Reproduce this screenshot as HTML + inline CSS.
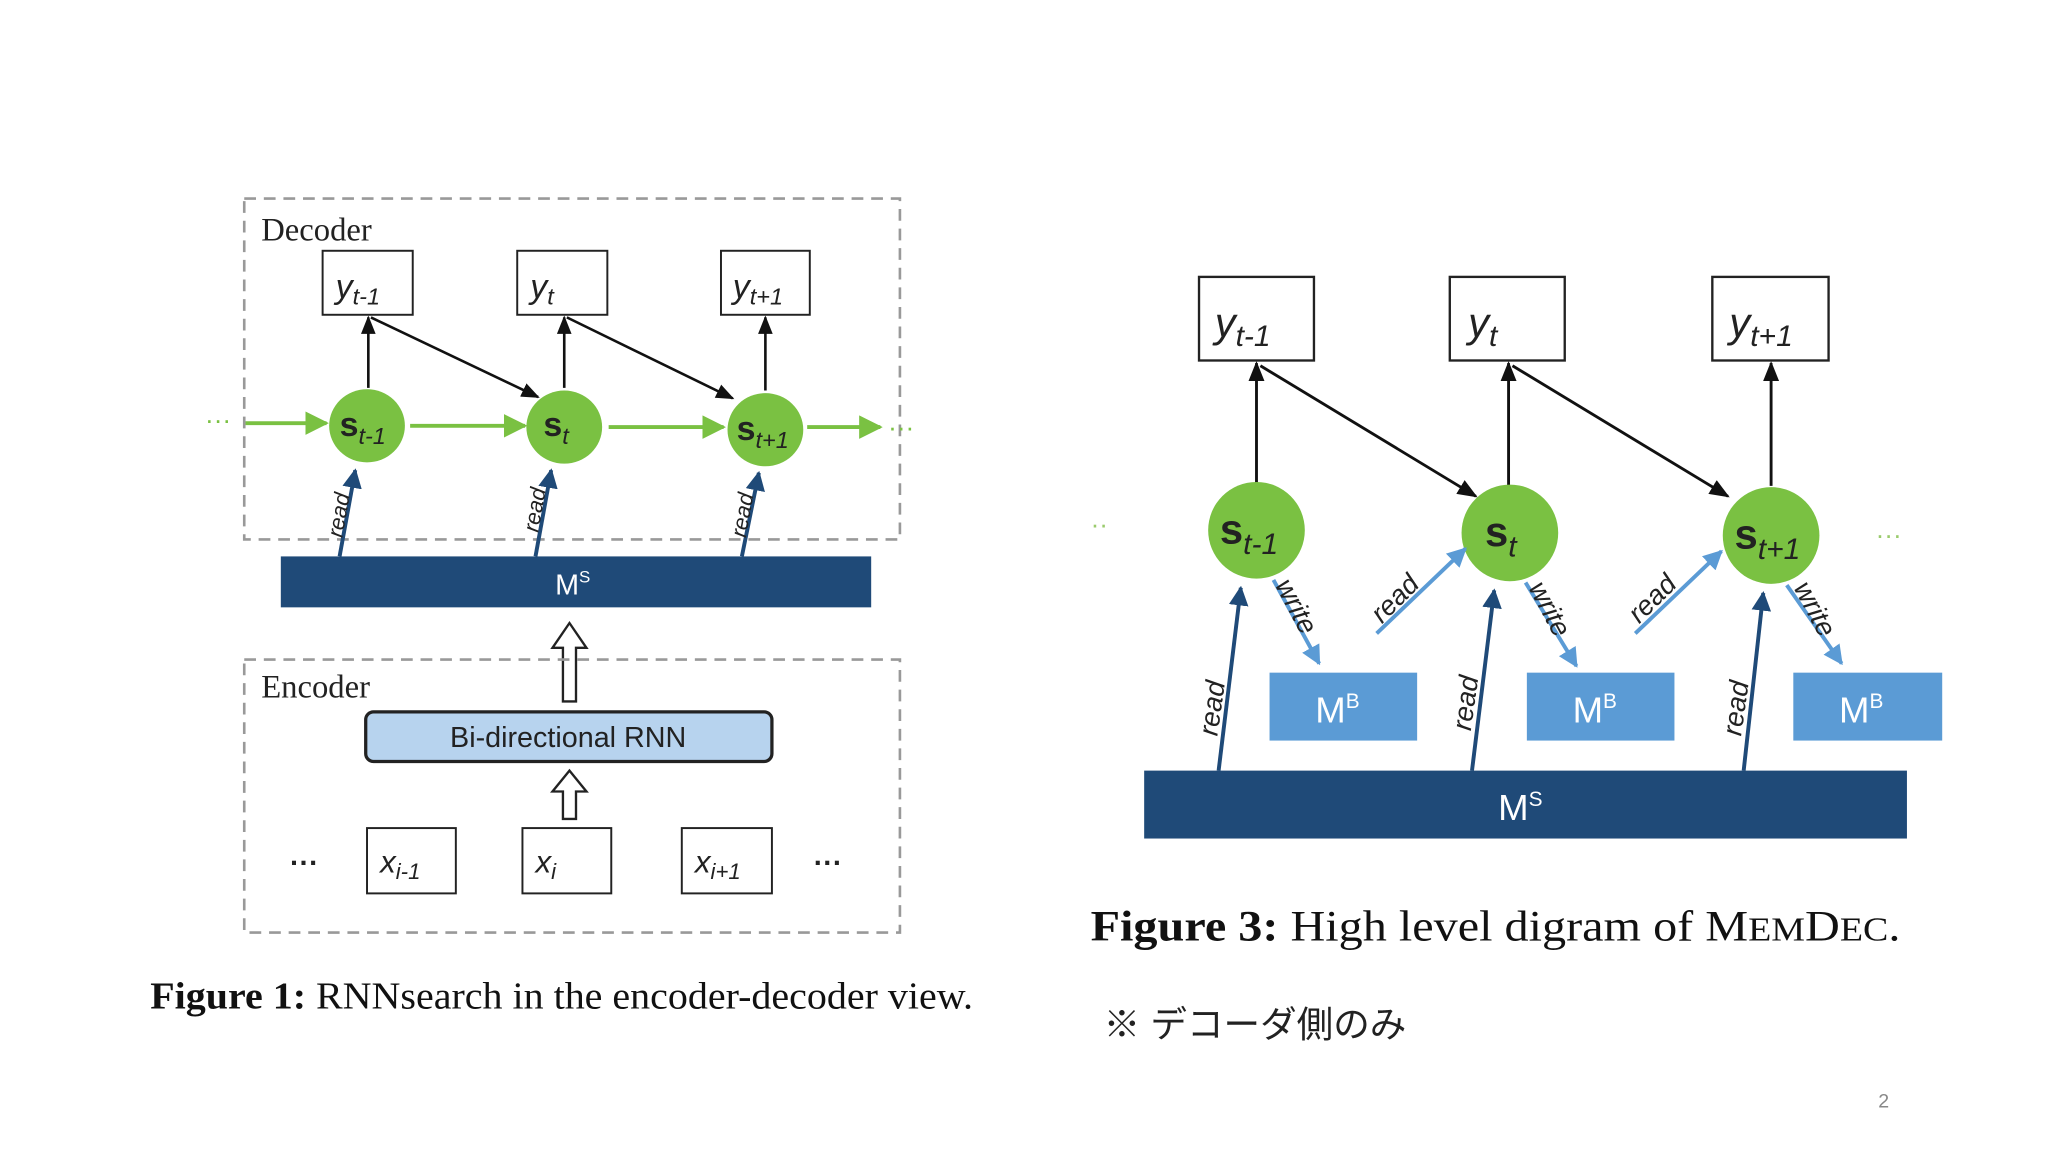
<!DOCTYPE html>
<html><head><meta charset="utf-8"><style>
html,body{margin:0;padding:0;background:#fff}
svg{display:block}
.ser{font-family:"Liberation Serif",serif}
.san{font-family:"Liberation Sans","DejaVu Sans",sans-serif}
</style></head><body>
<svg width="2048" height="1152" viewBox="0 0 1568 882" xmlns="http://www.w3.org/2000/svg">
<defs>
<marker id="ab" viewBox="0 0 10 10" refX="9" refY="5" markerWidth="7" markerHeight="7" orient="auto"><path d="M0,1 L10,5 L0,9 z" fill="#111"/></marker>
<marker id="ag" viewBox="0 0 10 10" refX="9" refY="5" markerWidth="6" markerHeight="6" orient="auto"><path d="M0,0 L10,5 L0,10 z" fill="#7ac142"/></marker>
<marker id="ad" viewBox="0 0 10 10" refX="9" refY="5" markerWidth="5" markerHeight="5" orient="auto"><path d="M0,0 L10,5 L0,10 z" fill="#1f4a78"/></marker>
<marker id="al" viewBox="0 0 10 10" refX="9" refY="5" markerWidth="5" markerHeight="5" orient="auto"><path d="M0,0 L10,5 L0,10 z" fill="#5b9bd5"/></marker>
</defs>
<rect width="1568" height="882" fill="#fff"/>

<!-- Figure 1 -->
<rect x="187" y="152" width="502" height="261" fill="none" stroke="#999" stroke-width="2" stroke-dasharray="9,6"/>
<text x="200" y="184" class="ser" font-size="25" fill="#222">Decoder</text>
<g fill="#fff" stroke="#222" stroke-width="1.5">
<rect x="247" y="192" width="69" height="49"/><rect x="396" y="192" width="69" height="49"/><rect x="552" y="192" width="68" height="49"/>
</g>
<g class="san" font-style="italic" fill="#222">
<text x="257" y="228" font-size="26">y<tspan font-size="18" dy="5">t-1</tspan></text>
<text x="406" y="228" font-size="26">y<tspan font-size="18" dy="5">t</tspan></text>
<text x="561" y="228" font-size="26">y<tspan font-size="18" dy="5">t+1</tspan></text>
</g>
<g stroke="#111" stroke-width="2" marker-end="url(#ab)">
<line x1="282" y1="297" x2="282" y2="243"/><line x1="432" y1="297" x2="432" y2="243"/><line x1="586" y1="299" x2="586" y2="243"/>
<line x1="284" y1="243" x2="412" y2="304"/><line x1="434" y1="243" x2="561" y2="305"/>
</g>
<text x="157" y="328" class="san" font-size="20" fill="#7ac142">···</text>
<text x="680" y="334" class="san" font-size="20" fill="#7ac142">···</text>
<g stroke="#7ac142" stroke-width="3" marker-end="url(#ag)">
<line x1="188" y1="324" x2="250" y2="324"/><line x1="314" y1="326" x2="402" y2="326"/><line x1="466" y1="327" x2="554" y2="327"/><line x1="618" y1="327" x2="674" y2="327"/>
</g>
<g fill="#7ac142"><ellipse cx="281" cy="326" rx="29" ry="28"/><ellipse cx="432" cy="327" rx="29" ry="28"/><ellipse cx="586" cy="329" rx="29" ry="28"/></g>
<g class="san" font-weight="bold" fill="#222">
<text x="260" y="334" font-size="26">s<tspan font-size="18" font-style="italic" font-weight="normal" dy="6">t-1</tspan></text>
<text x="416" y="334" font-size="26">s<tspan font-size="18" font-style="italic" font-weight="normal" dy="6">t</tspan></text>
<text x="564" y="337" font-size="26">s<tspan font-size="18" font-style="italic" font-weight="normal" dy="6">t+1</tspan></text>
</g>
<g stroke="#1f4a78" stroke-width="3" marker-end="url(#ad)">
<line x1="260" y1="426" x2="272" y2="360"/><line x1="410" y1="426" x2="422" y2="360"/><line x1="568" y1="426" x2="581" y2="362"/>
</g>
<g class="san" font-style="italic" font-size="17" fill="#222">
<text transform="translate(262,412) rotate(-80)">read</text>
<text transform="translate(412,408) rotate(-80)">read</text>
<text transform="translate(571,412) rotate(-80)">read</text>
</g>
<rect x="215" y="426" width="452" height="39" fill="#1f4a78"/>
<text x="425" y="455" class="san" font-size="22" fill="#fff">M<tspan font-size="13" dy="-9">S</tspan></text>
<path d="M431,537 L431,496 L423,496 L436,477 L449,496 L441,496 L441,537 Z" fill="#fff" stroke="#222" stroke-width="1.8"/>
<rect x="187" y="505" width="502" height="209" fill="none" stroke="#999" stroke-width="2" stroke-dasharray="9,6"/>
<text x="200" y="534" class="ser" font-size="25" fill="#222">Encoder</text>
<rect x="280" y="545" width="311" height="38" rx="6" fill="#b7d3ee" stroke="#222" stroke-width="2.5"/>
<text x="435" y="572" class="san" font-size="22" fill="#222" text-anchor="middle">Bi-directional RNN</text>
<path d="M431,627 L431,606 L423,606 L436,590 L449,606 L441,606 L441,627 Z" fill="#fff" stroke="#222" stroke-width="1.8"/>
<g fill="#fff" stroke="#222" stroke-width="1.5">
<rect x="281" y="634" width="68" height="50"/><rect x="400" y="634" width="68" height="50"/><rect x="522" y="634" width="69" height="50"/>
</g>
<g class="san" font-style="italic" fill="#222">
<text x="291" y="668" font-size="24">x<tspan font-size="17" dy="5">i-1</tspan></text>
<text x="410" y="668" font-size="24">x<tspan font-size="17" dy="5">i</tspan></text>
<text x="532" y="668" font-size="24">x<tspan font-size="17" dy="5">i+1</tspan></text>
</g>
<text x="222" y="668" class="san" font-size="22" font-weight="bold" fill="#222">···</text>
<text x="623" y="668" class="san" font-size="22" font-weight="bold" fill="#222">···</text>
<text x="115" y="772" class="ser" font-size="29" fill="#111" textLength="630" lengthAdjust="spacingAndGlyphs"><tspan font-weight="bold">Figure 1:</tspan> RNNsearch in the encoder-decoder view.</text>

<!-- Figure 3 -->
<g fill="#fff" stroke="#222" stroke-width="1.8">
<rect x="918" y="212" width="88" height="64"/><rect x="1110" y="212" width="88" height="64"/><rect x="1311" y="212" width="89" height="64"/>
</g>
<g class="san" font-style="italic" fill="#222">
<text x="930" y="258" font-size="32">y<tspan font-size="23" dy="7">t-1</tspan></text>
<text x="1124" y="258" font-size="32">y<tspan font-size="23" dy="7">t</tspan></text>
<text x="1324" y="258" font-size="32">y<tspan font-size="23" dy="7">t+1</tspan></text>
</g>
<g stroke="#111" stroke-width="2.2" marker-end="url(#ab)">
<line x1="962" y1="370" x2="962" y2="278"/><line x1="1155" y1="372" x2="1155" y2="278"/><line x1="1356" y1="372" x2="1356" y2="278"/>
<line x1="965" y1="280" x2="1130" y2="380"/><line x1="1158" y1="280" x2="1323" y2="380"/>
</g>
<g fill="#7ac142"><ellipse cx="962" cy="406" rx="37" ry="37"/><ellipse cx="1156" cy="408" rx="37" ry="37"/><ellipse cx="1356" cy="410" rx="37" ry="37"/></g>
<g class="san" font-weight="bold" fill="#222">
<text x="934" y="416" font-size="32">s<tspan font-size="23" font-style="italic" font-weight="normal" dy="8">t-1</tspan></text>
<text x="1137" y="418" font-size="32">s<tspan font-size="23" font-style="italic" font-weight="normal" dy="8">t</tspan></text>
<text x="1328" y="420" font-size="32">s<tspan font-size="23" font-style="italic" font-weight="normal" dy="8">t+1</tspan></text>
</g>
<text x="835" y="408" class="san" font-size="20" fill="#9acb6c">··</text>
<text x="1436" y="416" class="san" font-size="20" fill="#9acb6c">···</text>
<g fill="#5b9bd5"><rect x="972" y="515" width="113" height="52"/><rect x="1169" y="515" width="113" height="52"/><rect x="1373" y="515" width="114" height="52"/></g>
<g class="san" font-size="28" fill="#fff">
<text x="1007" y="553">M<tspan font-size="16" dy="-11">B</tspan></text>
<text x="1204" y="553">M<tspan font-size="16" dy="-11">B</tspan></text>
<text x="1408" y="553">M<tspan font-size="16" dy="-11">B</tspan></text>
</g>
<rect x="876" y="590" width="584" height="52" fill="#1f4a78"/>
<text x="1147" y="628" class="san" font-size="28" fill="#fff">M<tspan font-size="16" dy="-11">S</tspan></text>
<g stroke="#1f4a78" stroke-width="3" marker-end="url(#ad)">
<line x1="933" y1="590" x2="950" y2="450"/><line x1="1127" y1="590" x2="1144" y2="452"/><line x1="1335" y1="590" x2="1350" y2="454"/>
</g>
<g stroke="#5b9bd5" stroke-width="3" marker-end="url(#al)">
<line x1="975" y1="444" x2="1010" y2="508"/><line x1="1168" y1="446" x2="1207" y2="510"/><line x1="1368" y1="448" x2="1410" y2="508"/>
<line x1="1054" y1="485" x2="1122" y2="420"/><line x1="1252" y1="485" x2="1318" y2="422"/>
</g>
<g class="san" font-style="italic" font-size="21" fill="#222">
<text transform="translate(932,564) rotate(-82)">read</text>
<text transform="translate(1126,560) rotate(-82)">read</text>
<text transform="translate(1333,564) rotate(-82)">read</text>
<text transform="translate(1058,478) rotate(-45)">read</text>
<text transform="translate(1255,478) rotate(-45)">read</text>
<text transform="translate(976,448) rotate(62)">write</text>
<text transform="translate(1170,450) rotate(62)">write</text>
<text transform="translate(1373,450) rotate(62)">write</text>
</g>
<text x="835" y="720" class="ser" font-size="33" fill="#111" textLength="620" lengthAdjust="spacingAndGlyphs"><tspan font-weight="bold">Figure 3:</tspan> High level digram of M<tspan font-size="26">EM</tspan>D<tspan font-size="26">EC</tspan>.</text>
<text x="845" y="794" class="san" font-size="28" fill="#222" style="font-family:'Liberation Sans','Noto Sans CJK JP',sans-serif">※ デコーダ側のみ</text>
<text x="1438" y="848" class="san" font-size="15" fill="#888">2</text>
</svg>
</body></html>
